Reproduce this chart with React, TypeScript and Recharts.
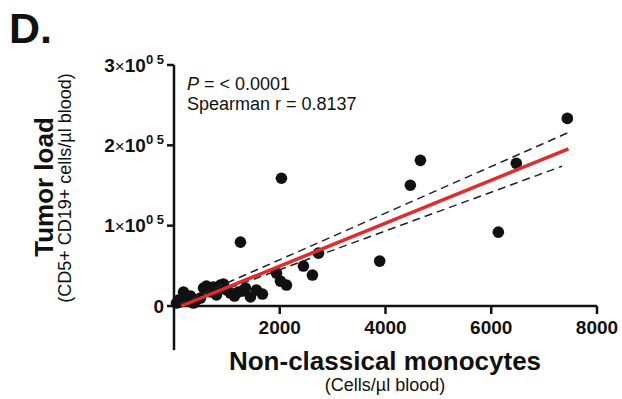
import React from "react";
import {
  ComposedChart,
  Scatter,
  XAxis,
  YAxis,
  ReferenceLine,
} from "recharts";

// Non-classical monocytes (cells/µl) vs tumor load (CD5+ CD19+ cells/µl)
const monoX = [
  47, 85, 123, 180, 217, 274, 312, 369, 425, 501, 558, 614, 690, 747, 803, 879,
  936, 992, 1068, 1144, 1219, 1295, 1352, 1446, 1560, 1673, 1938, 2013, 2127,
  2448, 2618, 2732, 1257, 2032, 3890, 4660, 4470, 6474, 6134, 7439,
];
const tumorY = [
  3700, 7500, 5000, 17400, 9900, 7500, 12400, 3700, 7500, 9900, 22400, 24800,
  17400, 23600, 13700, 26100, 27300, 19900, 16100, 12400, 17400, 18600, 22400,
  11200, 19900, 14900, 41000, 31000, 26100, 49700, 38500, 65800, 79500, 159000,
  55900, 181300, 150300, 177600, 91900, 233500,
];

// regression line and 95% band
const fitX = [140, 7460];
const fitY = [0, 195500];
const upperX = [100, 7460];
const upperY = [2500, 216000];
const lowerX = [123, 7340];
const lowerY = [0, 174000];

const xTicks = [2000, 4000, 6000, 8000];
const yTicks = [0, 100000, 200000, 300000];

const points = monoX.map((x, i) => ({ x, y: tumorY[i] }));
const fit = fitX.map((x, i) => ({ x, y: fitY[i] }));
const upper = upperX.map((x, i) => ({ x, y: upperY[i] }));
const lower = lowerX.map((x, i) => ({ x, y: lowerY[i] }));

const FONT = "'Liberation Sans', Arial, sans-serif";

function YTick(props: any) {
  const { x, y, payload } = props;
  const v = payload.value as number;
  if (v === 0) {
    return (
      <text x={x} y={y} dy={6.5} textAnchor="end" fontFamily={FONT} fontSize={19} fontWeight="bold" fill="#111">
        0
      </text>
    );
  }
  return (
    <text x={x} y={y} dy={6.5} textAnchor="end" fontFamily={FONT} fontSize={19} fontWeight="bold" fill="#111">
      {v / 100000}
      <tspan fontSize={17} fontWeight="normal">×</tspan>
      <tspan>10</tspan>
      <tspan fontSize={13} dy={-8}>0 5</tspan>
    </text>
  );
}

const noDot = () => <g />;

export default function App() {
  return (
    <div style={{ position: "absolute", left: 0, top: 0, width: 622, height: 399, background: "#fff" }}>
      <ComposedChart
        width={622}
        height={399}
        margin={{ top: 65, right: 25, bottom: 33, left: 74 }}
      >
        <XAxis
          type="number"
          dataKey="x"
          domain={[0, 8000]}
          ticks={xTicks}
          height={60}
          axisLine={{ stroke: "#111", strokeWidth: 2.5 }}
          tickLine={{ stroke: "#111", strokeWidth: 2.5 }}
          tickSize={8}
          tickMargin={7}
          tick={{ fontFamily: FONT, fontSize: 19, fontWeight: "bold", fill: "#111" }}
        />
        <YAxis
          type="number"
          dataKey="y"
          domain={[0, 300000]}
          ticks={yTicks}
          width={100}
          axisLine={{ stroke: "#111", strokeWidth: 2.5 }}
          tickLine={{ stroke: "#111", strokeWidth: 2.5 }}
          tickSize={7}
          tickMargin={3}
          tick={<YTick />}
        />
        <ReferenceLine
          segment={[{ x: 0, y: 0 }, { x: 0, y: -55000 }]}
          ifOverflow="visible"
          stroke="#111"
          strokeWidth={2.5}
        />
        <Scatter
          data={points}
          dataKey="y"
          isAnimationActive={false}
          shape={(p: any) => <circle cx={p.cx} cy={p.cy} r={5.8} fill="#111" />}
        />
        <Scatter
          data={upper}
          dataKey="y"
          isAnimationActive={false}
          line={{ stroke: "#222", strokeWidth: 1.5, strokeDasharray: "8 5" }}
          shape={noDot}
        />
        <Scatter
          data={lower}
          dataKey="y"
          isAnimationActive={false}
          line={{ stroke: "#222", strokeWidth: 1.5, strokeDasharray: "8 5" }}
          shape={noDot}
        />
        <Scatter
          data={fit}
          dataKey="y"
          isAnimationActive={false}
          line={{ stroke: "#e42a2a", strokeWidth: 3.5 }}
          shape={noDot}
        />
      </ComposedChart>
      <svg
        width={622}
        height={399}
        style={{ position: "absolute", left: 0, top: 0, pointerEvents: "none" }}
        fontFamily={FONT}
        fill="#111"
      >
        <text x={9} y={43} fontSize={43} fontWeight="bold">D.</text>
        <text x={187} y={90} fontSize={18}>
          <tspan fontStyle="italic">P</tspan> = &lt; 0.0001
        </text>
        <text x={187} y={110} fontSize={18}>Spearman r = 0.8137</text>
        <text x={385} y={370} fontSize={26} fontWeight="bold" textAnchor="middle">
          Non-classical monocytes
        </text>
        <text x={385} y={391} fontSize={18} textAnchor="middle">(Cells/µl blood)</text>
        <text
          x={53}
          y={187}
          fontSize={26}
          fontWeight="bold"
          textAnchor="middle"
          transform="rotate(-90 53 187)"
        >
          Tumor load
        </text>
        <text
          x={71}
          y={188}
          fontSize={18}
          textAnchor="middle"
          transform="rotate(-90 71 188)"
        >
          (CD5+ CD19+ cells/µl blood)
        </text>
      </svg>
    </div>
  );
}
